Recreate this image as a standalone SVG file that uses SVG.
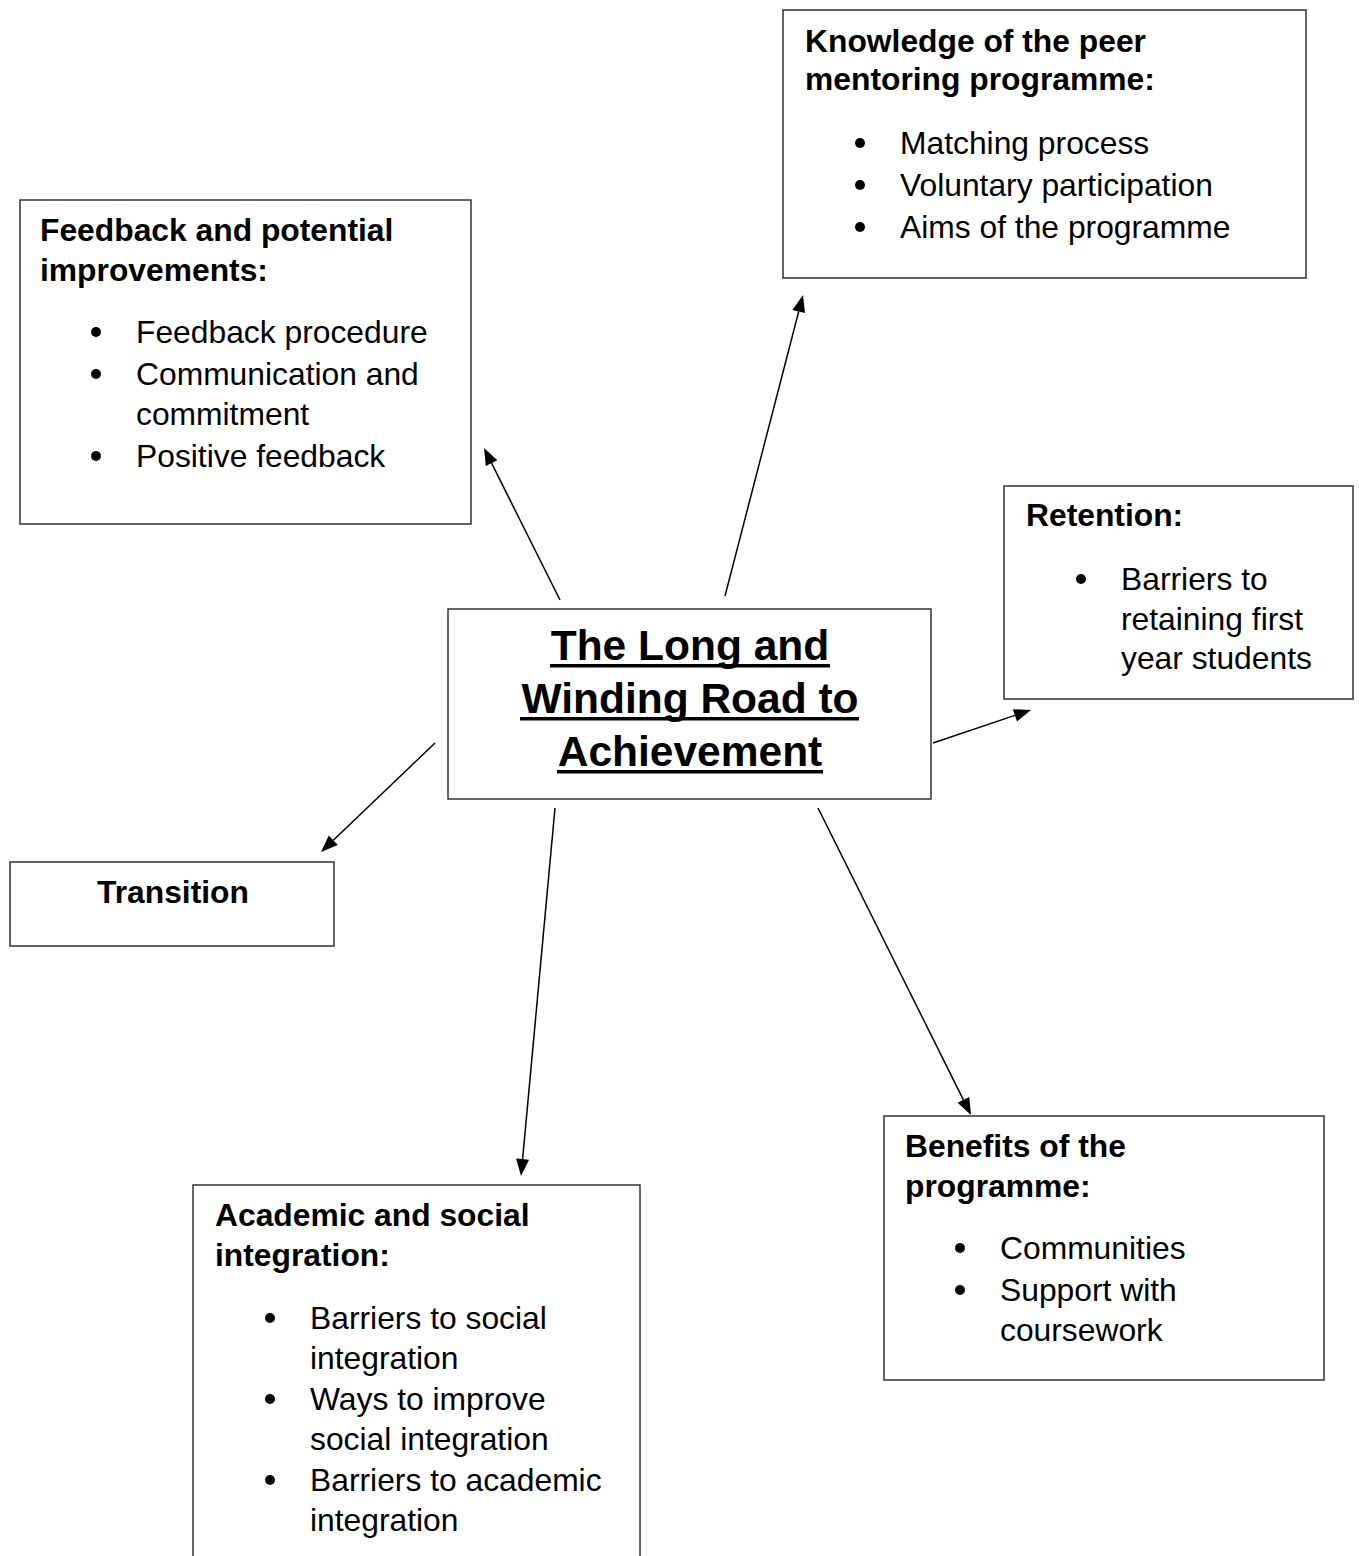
<svg xmlns="http://www.w3.org/2000/svg" width="1359" height="1556" viewBox="0 0 1359 1556">
<style>
.box{fill:#fff;stroke:#333;stroke-width:1.5}
.h{font-family:"Liberation Sans",Arial,sans-serif;font-size:31.8px;font-weight:bold;fill:#000}
.t{font-family:"Liberation Sans",Arial,sans-serif;font-size:31.8px;fill:#000}
.title{font-family:"Liberation Sans",Arial,sans-serif;font-size:42.5px;font-weight:bold;fill:#000;text-anchor:middle}
.ul{fill:#000}
.ln{stroke:#000;stroke-width:1.5;fill:none}
.hd{fill:#000}
.dot{fill:#000}
</style>
<rect width="1359" height="1556" fill="#fff"/>
<g id="connectors">
<path class="ln" d="M560,600 L491.6,463.2"/>
<path class="hd" d="M484,448 L497.4,460.3 L485.8,466.1 Z"/>
<path class="ln" d="M725,596 L798.7,311.5"/>
<path class="hd" d="M803,295 L805,313.1 L792.4,309.9 Z"/>
<path class="ln" d="M435,743 L333.3,840.3"/>
<path class="hd" d="M321,852 L328.8,835.6 L337.8,845 Z"/>
<path class="ln" d="M555,808 L522.6,1159.1"/>
<path class="hd" d="M521,1176 L516.1,1158.5 L529.1,1159.7 Z"/>
<path class="ln" d="M933,743 L1014.9,715.4"/>
<path class="hd" d="M1031,710 L1017,721.6 L1012.8,709.2 Z"/>
<path class="ln" d="M818,808 L963.4,1099.8"/>
<path class="hd" d="M971,1115 L957.6,1102.7 L969.2,1096.9 Z"/>
</g>
<g id="knowledge">
<rect class="box" x="783" y="10" width="523" height="268"/>
<text class="h" x="805" y="52">Knowledge of the peer</text>
<text class="h" x="805" y="90">mentoring programme:</text>
<circle class="dot" cx="860" cy="143" r="5"/>
<text class="t" x="900" y="154">Matching process</text>
<circle class="dot" cx="860" cy="185" r="5"/>
<text class="t" x="900" y="196">Voluntary participation</text>
<circle class="dot" cx="860" cy="227" r="5"/>
<text class="t" x="900" y="238">Aims of the programme</text>
</g>
<g id="feedback">
<rect class="box" x="20" y="200" width="451" height="324"/>
<text class="h" x="40" y="241">Feedback and potential</text>
<text class="h" x="40" y="281">improvements:</text>
<circle class="dot" cx="96" cy="332" r="5"/>
<text class="t" x="136" y="343">Feedback procedure</text>
<circle class="dot" cx="96" cy="374" r="5"/>
<text class="t" x="136" y="385">Communication and</text>
<text class="t" x="136" y="425">commitment</text>
<circle class="dot" cx="96" cy="456" r="5"/>
<text class="t" x="136" y="467">Positive feedback</text>
</g>
<g id="retention">
<rect class="box" x="1004" y="486" width="349" height="213"/>
<text class="h" x="1026" y="526">Retention:</text>
<circle class="dot" cx="1081" cy="579" r="5"/>
<text class="t" x="1121" y="590">Barriers to</text>
<text class="t" x="1121" y="630">retaining first</text>
<text class="t" x="1121" y="669">year students</text>
</g>
<g id="center">
<rect class="box" x="448" y="609" width="483" height="190"/>
<text class="title" x="690" y="660">The Long and</text>
<text class="title" x="690" y="713">Winding Road to</text>
<text class="title" x="690" y="766">Achievement</text>
<rect class="ul" x="550" y="664" width="280" height="3.5"/>
<rect class="ul" x="520" y="717" width="339" height="3.5"/>
<rect class="ul" x="557" y="770" width="266" height="3.5"/>
</g>
<g id="transition">
<rect class="box" x="10" y="862" width="324" height="84"/>
<text class="h" x="173" y="903" text-anchor="middle">Transition</text>
</g>
<g id="benefits">
<rect class="box" x="884" y="1116" width="440" height="264"/>
<text class="h" x="905" y="1157">Benefits of the</text>
<text class="h" x="905" y="1197">programme:</text>
<circle class="dot" cx="960" cy="1248" r="5"/>
<text class="t" x="1000" y="1259">Communities</text>
<circle class="dot" cx="960" cy="1290" r="5"/>
<text class="t" x="1000" y="1301">Support with</text>
<text class="t" x="1000" y="1341">coursework</text>
</g>
<g id="academic">
<rect class="box" x="193" y="1185" width="447" height="400"/>
<text class="h" x="215" y="1226">Academic and social</text>
<text class="h" x="215" y="1266">integration:</text>
<circle class="dot" cx="270" cy="1318" r="5"/>
<text class="t" x="310" y="1329">Barriers to social</text>
<text class="t" x="310" y="1369">integration</text>
<circle class="dot" cx="270" cy="1399" r="5"/>
<text class="t" x="310" y="1410">Ways to improve</text>
<text class="t" x="310" y="1450">social integration</text>
<circle class="dot" cx="270" cy="1480" r="5"/>
<text class="t" x="310" y="1491">Barriers to academic</text>
<text class="t" x="310" y="1531">integration</text>
</g>
</svg>
